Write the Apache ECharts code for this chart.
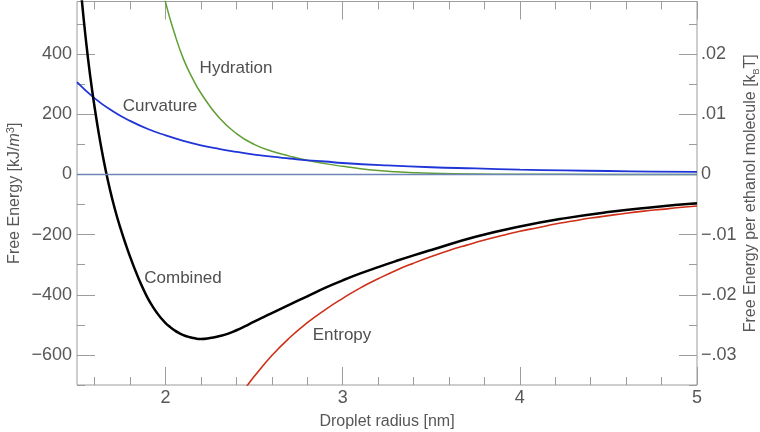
<!DOCTYPE html>
<html>
<head>
<meta charset="utf-8">
<script src="https://cdn.jsdelivr.net/npm/echarts@6/dist/echarts.min.js"></script>
<style>
html,body{margin:0;padding:0;background:#fff;}
#chart{width:760px;height:432px;}
</style>
</head>
<body>
<div id="chart"></div>
<script>
// ---- data ----
const radiusHyd = [1.95, 2.0, 2.05, 2.1, 2.15, 2.2, 2.3, 2.4, 2.5, 2.6, 2.7, 2.8, 2.9, 3.0, 3.1, 3.2, 3.3, 3.4, 3.5, 3.75, 4.0, 4.5, 5.0];
const hydration = [705, 572, 470, 385, 322, 270, 190, 136, 100, 77, 61, 47, 36, 27, 19, 13, 9, 6, 4, 1.5, 0.6, 0.2, 0.1];

const radiusCurv = [1.5, 1.6, 1.7, 1.8, 1.9, 2.0, 2.1, 2.2, 2.3, 2.4, 2.5, 2.6, 2.7, 2.8, 2.9, 3.0, 3.25, 3.5, 3.75, 4.0, 4.25, 4.5, 4.75, 5.0];
const curvature = [307, 253, 211, 178, 151, 130, 112, 97, 85, 75, 66, 59, 53, 47, 43, 38, 30, 24, 20, 16, 13.5, 11.4, 9.7, 8.3];

const radiusEnt = [2.45, 2.5, 2.6, 2.7, 2.8, 2.9, 3.0, 3.1, 3.2, 3.3, 3.4, 3.5, 3.6, 3.7, 3.8, 3.9, 4.0, 4.1, 4.2, 4.3, 4.4, 4.5, 4.6, 4.7, 4.8, 4.9, 5.0];
const entropy = [-711, -672, -602, -543, -493, -450, -412, -377, -347, -319, -295, -273, -253, -235, -218, -203, -189, -177, -165, -155, -145, -137, -129, -122, -116, -110, -105];

const radiusComb = [1.5, 1.525, 1.55, 1.575, 1.6, 1.625, 1.65, 1.675, 1.7, 1.725, 1.75, 1.775, 1.8, 1.825, 1.85, 1.875, 1.9, 1.925, 1.95, 1.975,
                    2.0, 2.025, 2.05, 2.075, 2.1, 2.125, 2.15, 2.175, 2.2, 2.25, 2.3, 2.35, 2.4, 2.45, 2.5, 2.55, 2.6, 2.7, 2.8, 2.9,
                    3.0, 3.1, 3.2, 3.3, 3.4, 3.5, 3.75, 4.0, 4.25, 4.5, 4.75, 5.0];
const combined = [762, 594, 448, 325, 221, 129, 49, -22, -84, -139, -187, -232, -274, -313, -349, -382, -412, -437, -459, -478,
                  -494, -507, -518, -527, -534, -539, -543, -546, -547, -544, -538, -530, -518, -504, -489, -475, -461, -433, -405, -377,
                  -352, -329, -308, -288, -269, -251, -207, -173, -146, -125, -109, -96];

const xTicks = [2, 3, 4, 5];
const xTickLabels = ['2', '3', '4', '5'];
const leftTicks = [-600, -400, -200, 0, 200, 400];
const leftTickLabels = ['\u2212600', '\u2212400', '\u2212200', '0', '200', '400'];
const rightTicks = [-0.03, -0.02, -0.01, 0, 0.01, 0.02];
const rightTickLabels = ['\u2212.03', '\u2212.02', '\u2212.01', '0', '.01', '.02'];

const seriesNames = ['Hydration', 'Curvature', 'Entropy', 'Combined'];

// ---- styling / layout ----
const FONT = "'Liberation Sans', Arial, Helvetica, sans-serif";
const AX = '#9c9c9c';
const TXT = '#575757';
const pick = (ticks, labels) => v => {
  let best = 0, bd = Infinity;
  ticks.forEach((t, i) => { const d = Math.abs(t - v); if (d < bd) { bd = d; best = i; } });
  return bd < 1e-6 + Math.abs(ticks[1] - ticks[0]) * 0.01 ? labels[best] : '';
};
const zipXY = (xs, ys) => xs.map((x, i) => [x, ys[i]]);

const L = 77, R = 63, TOP = 1.5, BOT = 47;
const plotW = 760 - L - R;              // 620 px for 3.5 units
const pxX = plotW / 3.5;
const YMIN = -700, YMAX = 575;
const pxY = (432 - TOP - BOT) / (YMAX - YMIN);

const hiddenX = g => ({gridIndex: g, type: 'value', show: false, min: 0, max: 1});
const hiddenY = g => ({gridIndex: g, type: 'value', show: false, min: 0, max: 1});
const tickAxis = (g, pos, min, max, interval, len, labels) => ({
  gridIndex: g, type: 'value', position: pos, min: min, max: max, interval: interval,
  axisLine: {show: false}, splitLine: {show: false},
  axisTick: {show: true, inside: true, length: len, lineStyle: {color: AX, width: 1}},
  axisLabel: labels ? Object.assign({show: true, fontSize: 18, color: TXT, fontFamily: FONT}, labels) : {show: false}
});
const G = o => Object.assign({outerBoundsMode: 'none', containLabel: false}, o);

const option = {
  animation: false,
  textStyle: {fontFamily: FONT},
  grid: [
    G({left: L, right: R, top: TOP, bottom: BOT, show: true, borderColor: AX, borderWidth: 1, backgroundColor: 'transparent'}),
    G({left: L + 0.1 * pxX, right: R, top: TOP, bottom: BOT}),
    G({left: L + 0.5 * pxX, right: R, top: TOP, bottom: BOT}),
    G({left: L, right: R, top: TOP + (YMAX - 500) * pxY, bottom: BOT}),
    G({left: L, right: R, top: TOP + (YMAX - 400) * pxY, bottom: BOT + 100 * pxY})
  ],
  xAxis: [
    {gridIndex: 0, type: 'value', min: 1.5, max: 5,
     axisLine: {show: false}, axisTick: {show: false}, axisLabel: {show: false}, splitLine: {show: false},
     name: 'Droplet radius [nm]', nameLocation: 'middle', nameGap: 29,
     nameTextStyle: {fontSize: 16, color: TXT, fontFamily: FONT}},
    tickAxis(1, 'bottom', 1.6, 5, 0.2, 8),
    tickAxis(1, 'top', 1.6, 5, 0.2, 8),
    tickAxis(2, 'bottom', 2, 5, 1, 18, {margin: 4, formatter: pick(xTicks, xTickLabels)}),
    tickAxis(2, 'top', 2, 5, 1, 18),
    hiddenX(3),
    hiddenX(4)
  ],
  yAxis: [
    {gridIndex: 0, type: 'value', min: YMIN, max: YMAX, position: 'left',
     axisLine: {show: false}, axisTick: {show: false}, axisLabel: {show: false}, splitLine: {show: false},
     name: '{a|Free Energy [kJ/}{i|m}{s|3}{a|]}', nameLocation: 'middle', nameGap: 52, nameRotate: 90,
     nameTextStyle: {rich: {
       a: {fontSize: 16, color: TXT, fontFamily: FONT, lineHeight: 20},
       i: {fontSize: 16, color: TXT, fontFamily: FONT, fontStyle: 'italic', lineHeight: 20},
       s: {fontSize: 11, color: TXT, fontFamily: FONT, verticalAlign: 'top', lineHeight: 20}
     }}},
    {gridIndex: 0, type: 'value', min: YMIN / 20000, max: YMAX / 20000, position: 'right',
     axisLine: {show: false}, axisTick: {show: false}, axisLabel: {show: false}, splitLine: {show: false},
     name: '{a|Free Energy per ethanol molecule [k}{b|B}{a|T]}', nameLocation: 'middle', nameGap: 44, nameRotate: 90,
     nameTextStyle: {rich: {
       a: {fontSize: 16, color: TXT, fontFamily: FONT, lineHeight: 20},
       b: {fontSize: 9, color: TXT, fontFamily: FONT, verticalAlign: 'bottom', lineHeight: 20}
     }}},
    hiddenY(1),
    hiddenY(2),
    tickAxis(3, 'left', -700, 500, 100, 8),
    tickAxis(3, 'right', -0.035, 0.025, 0.005, 8),
    tickAxis(4, 'left', -600, 400, 200, 18, {margin: 5, formatter: pick(leftTicks, leftTickLabels)}),
    tickAxis(4, 'right', -0.03, 0.02, 0.01, 18, {margin: 4, formatter: pick(rightTicks, rightTickLabels)})
  ],
  series: [
    {name: seriesNames[0], type: 'line', xAxisIndex: 0, yAxisIndex: 0, data: zipXY(radiusHyd, hydration),
     showSymbol: false, symbol: 'none', smooth: 0.5, clip: true, lineStyle: {color: '#5f9f33', width: 1.5},
     markLine: {silent: true, symbol: 'none', label: {show: false}, animation: false,
       lineStyle: {color: '#6d86b6', width: 1.3, type: 'solid'}, data: [{yAxis: 0}]}},
    {name: seriesNames[1], type: 'line', xAxisIndex: 0, yAxisIndex: 0, data: zipXY(radiusCurv, curvature),
     showSymbol: false, symbol: 'none', smooth: 0.5, clip: true, lineStyle: {color: '#1f35d8', width: 1.8}},
    {name: seriesNames[2], type: 'line', xAxisIndex: 0, yAxisIndex: 0, data: zipXY(radiusEnt, entropy),
     showSymbol: false, symbol: 'none', smooth: 0.5, clip: true, lineStyle: {color: '#cf2e17', width: 1.6}},
    {name: seriesNames[3], type: 'line', xAxisIndex: 0, yAxisIndex: 0, data: zipXY(radiusComb, combined),
     showSymbol: false, symbol: 'none', smooth: 0.5, clip: true, lineStyle: {color: '#000000', width: 2.5}}
  ],
  graphic: [
    {type: 'text', x: 236, y: 68, style: {text: seriesNames[0], fontSize: 17, fontFamily: FONT, fill: '#4f4f4f', align: 'center', verticalAlign: 'middle'}},
    {type: 'text', x: 160, y: 106, style: {text: seriesNames[1], fontSize: 17, fontFamily: FONT, fill: '#4f4f4f', align: 'center', verticalAlign: 'middle'}},
    {type: 'text', x: 342, y: 335, style: {text: seriesNames[2], fontSize: 17, fontFamily: FONT, fill: '#4f4f4f', align: 'center', verticalAlign: 'middle'}},
    {type: 'text', x: 183, y: 278, style: {text: seriesNames[3], fontSize: 17, fontFamily: FONT, fill: '#4f4f4f', align: 'center', verticalAlign: 'middle'}}
  ]
};

const chart = echarts.init(document.getElementById('chart'), null, {renderer: 'canvas'});
chart.setOption(option);
</script>
</body>
</html>
